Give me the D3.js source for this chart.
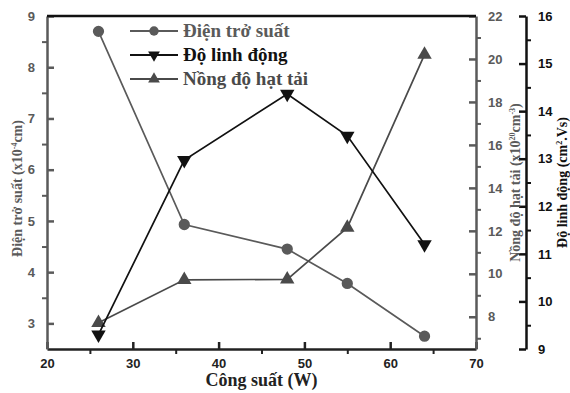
<!DOCTYPE html>
<html>
<head>
<meta charset="utf-8">
<script src="https://cdn.jsdelivr.net/npm/d3@7"></script>
<style>
  body { margin: 0; background: #fff; }
  .tick text { font-family: "Liberation Sans", Arial, sans-serif; font-weight: bold; font-size: 13px; }
  .title { font-family: "Liberation Serif", "Times New Roman", serif; font-weight: bold; }
</style>
</head>
<body>
<div id="chart"></div>
<script>
// data
var power = [26, 36, 48, 55, 64];
var resistivity = [8.7, 4.93, 4.45, 3.78, 2.75];      // x10^-4 ohm cm, left axis
var mobility = [9.3, 12.97, 14.36, 13.48, 11.2];      // cm2/Vs, outer right axis
var carrier = [7.72, 9.72, 9.74, 12.15, 20.2];        // x10^20 cm^-3, inner right axis
var legendNames = ["Điện trở suất", "Độ linh động", "Nồng độ hạt tải"];

var svgWidth = 570;
var svgHeight = 393;
var margin = { top: 16, right: 94, bottom: 44, left: 47 };
var width = svgWidth - margin.left - margin.right;
var height = svgHeight - margin.top - margin.bottom;

var grey = "#5a5a5a";
var dark = "#111";

var svg = d3.select("#chart")
    .append("svg")
    .attr("width", svgWidth)
    .attr("height", svgHeight);

var chartGroup = svg.append("g")
    .attr("transform", `translate(${margin.left}, ${margin.top})`);

// scales
var xScale = d3.scaleLinear().domain([20, 70]).range([0, width]);
var yLeft = d3.scaleLinear().domain([2.5, 9]).range([height, 0]);
var yCarrier = d3.scaleLinear().domain([6.5, 22]).range([height, 0]);
var yMobility = d3.scaleLinear().domain([9, 16]).range([height, 0]);

// helper: major ticks inside, minor ticks outside
function drawAxis(g, axisFn, scale, majors, minors, color, pad) {
    // minor ticks
    g.append("g")
        .call(axisFn(scale).tickValues(minors).tickSize(5).tickFormat(""))
        .call(a => a.select(".domain").remove())
        .selectAll("line").attr("stroke", color).attr("stroke-width", 2);
    // major ticks pointing inside, labels outside
    var major = g.append("g")
        .call(axisFn(scale).tickValues(majors).tickFormat(d3.format("d"))
            .tickSizeInner(-7).tickSizeOuter(0).tickPadding(pad));
    major.select(".domain").attr("stroke", color).attr("stroke-width", 2.5);
    major.selectAll("line").attr("stroke", color).attr("stroke-width", 2.5);
    major.selectAll("text").attr("fill", color);
    return major;
}

// bottom axis
var xg = chartGroup.append("g").attr("transform", `translate(0, ${height})`);
drawAxis(xg, d3.axisBottom, xScale, [20, 30, 40, 50, 60, 70], [25, 35, 45, 55, 65], "#222", 10);

// left axis
var lg = chartGroup.append("g");
drawAxis(lg, d3.axisLeft, yLeft, [3, 4, 5, 6, 7, 8, 9], [3.5, 4.5, 5.5, 6.5, 7.5, 8.5], grey, 12);

// inner right axis
var rg = chartGroup.append("g").attr("transform", `translate(${width}, 0)`);
drawAxis(rg, d3.axisRight, yCarrier, [8, 10, 12, 14, 16, 18, 20, 22], [7, 9, 11, 13, 15, 17, 19, 21], grey, 12);

// outer right axis
var og = chartGroup.append("g").attr("transform", `translate(${width + 50}, 0)`);
drawAxis(og, d3.axisRight, yMobility, [9, 10, 11, 12, 13, 14, 15, 16], [9.5, 10.5, 11.5, 12.5, 13.5, 14.5, 15.5], dark, 12);

// top border
chartGroup.append("line")
    .attr("x1", 0).attr("x2", width).attr("y1", 0).attr("y2", 0)
    .attr("stroke", dark).attr("stroke-width", 2.5);

// series
function series(values, yScale, color, symbol, rot, size) {
    var pts = power.map((p, i) => [xScale(p), yScale(values[i])]);
    chartGroup.append("path")
        .attr("d", d3.line()(pts))
        .attr("fill", "none")
        .attr("stroke", color)
        .attr("stroke-width", 1.7);
    chartGroup.append("g").selectAll("path")
        .data(pts)
        .enter()
        .append("path")
        .attr("d", d3.symbol().type(symbol).size(size))
        .attr("transform", d => `translate(${d[0]}, ${d[1]}) rotate(${rot})`)
        .attr("fill", color);
}

series(resistivity, yLeft, grey, d3.symbolCircle, 0, 100);
series(carrier, yCarrier, "#4a4a4a", d3.symbolTriangle, 0, 90);
series(mobility, yMobility, dark, d3.symbolTriangle, 180, 90);

// legend
var legendStyle = [
    { color: grey, sym: d3.symbolCircle, rot: 0, size: 70 },
    { color: dark, sym: d3.symbolTriangle, rot: 180, size: 60 },
    { color: "#4a4a4a", sym: d3.symbolTriangle, rot: 0, size: 60 }
];
var legend = svg.append("g").attr("transform", "translate(130, 31)");
legendNames.forEach(function(name, i) {
    var row = legend.append("g").attr("transform", `translate(0, ${i * 24})`);
    var st = legendStyle[i];
    row.append("line").attr("x1", 0).attr("x2", 48).attr("stroke", st.color).attr("stroke-width", 1.8);
    row.append("path")
        .attr("d", d3.symbol().type(st.sym).size(st.size))
        .attr("transform", `translate(24, 0) rotate(${st.rot})`)
        .attr("fill", st.color);
    row.append("text")
        .attr("class", "title")
        .attr("x", 53)
        .attr("y", 6)
        .attr("font-size", "19px")
        .attr("fill", st.color)
        .text(name);
});

// axis titles
var leftTitle = svg.append("text")
    .attr("class", "title")
    .attr("transform", `translate(22, ${margin.top + height / 2 + 6}) rotate(-90)`)
    .attr("text-anchor", "middle")
    .attr("font-size", "14px")
    .attr("fill", grey);
leftTitle.append("tspan").text("Điện trở suất (x10");
leftTitle.append("tspan").attr("dy", -5).attr("font-size", "8px").text("-4");
leftTitle.append("tspan").attr("dy", 5).text("cm)");

var rightTitle = svg.append("text")
    .attr("class", "title")
    .attr("transform", `translate(520, ${margin.top + height / 2}) rotate(-90)`)
    .attr("text-anchor", "middle")
    .attr("font-size", "14px")
    .attr("fill", grey);
rightTitle.append("tspan").text("Nồng độ hạt tải (x10");
rightTitle.append("tspan").attr("dy", -5).attr("font-size", "8px").text("20");
rightTitle.append("tspan").attr("dy", 5).text("cm");
rightTitle.append("tspan").attr("dy", -5).attr("font-size", "8px").text("-3");
rightTitle.append("tspan").attr("dy", 5).text(")");

var outerTitle = svg.append("text")
    .attr("class", "title")
    .attr("transform", `translate(567, ${margin.top + height / 2}) rotate(-90)`)
    .attr("text-anchor", "middle")
    .attr("font-size", "14px")
    .attr("fill", dark);
outerTitle.append("tspan").text("Độ linh động (cm");
outerTitle.append("tspan").attr("dy", -5).attr("font-size", "8px").text("2");
outerTitle.append("tspan").attr("dy", 5).text(".Vs)");

svg.append("text")
    .attr("class", "title")
    .attr("x", margin.left + width / 2)
    .attr("y", 386)
    .attr("text-anchor", "middle")
    .attr("font-size", "18px")
    .attr("fill", "#222")
    .text("Công suất (W)");
</script>
</body>
</html>
